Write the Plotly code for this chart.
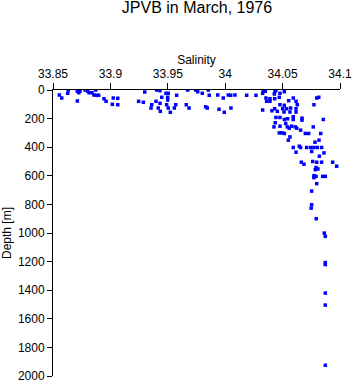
import plotly.graph_objects as go

salinity = [
    33.8555, 33.8576, 33.8628, 33.8633, 33.8712, 33.8724, 33.8735, 33.8712, 33.8779, 33.8802,
    33.8814, 33.8840, 33.8872, 33.8857, 33.8881, 33.8898, 33.8944, 33.8962, 33.9025, 33.9064,
    33.9017, 33.9064, 33.9246, 33.9287, 33.9299,
    33.9403, 33.9432, 33.9484, 33.9504, 33.9499, 33.9499, 33.9447, 33.9397, 33.9432, 33.9360,
    33.9354, 33.9417, 33.9435, 33.9490, 33.9504, 33.9522, 33.9569, 33.9557, 33.9577, 33.9673,
    33.9743, 33.9760, 33.9800, 33.9853, 33.9861, 33.9935, 33.9983, 34.0027, 34.0048, 34.0085,
    33.9661, 33.9685, 33.9830, 33.9844, 33.9946, 33.9992, 34.0050,
    34.0187, 34.0268, 34.0332, 34.0349, 34.0326, 34.0434, 34.0442, 34.0428, 34.0477, 34.0515,
    34.0471, 34.0355, 34.0390, 34.0361, 34.0390, 34.0431, 34.0553, 34.0617, 34.0593, 34.0628,
    34.0477, 34.0515, 34.0501, 34.0431, 34.0454, 34.0512, 34.0535, 34.0570, 34.0617, 34.0617,
    34.0564, 34.0326, 34.0407, 34.0773, 34.0797, 34.0815,
    34.0442, 34.0477, 34.0515, 34.0544, 34.0593, 34.0593, 34.0669, 34.0669, 34.0854, 34.0436,
    34.0425, 34.0477, 34.0527, 34.0541, 34.0579, 34.0610, 34.0623, 34.0558, 34.0767, 34.0657,
    34.0698, 34.0727, 34.0471, 34.0495, 34.0515, 34.0564, 34.0832, 34.0817, 34.0782, 34.0550,
    34.0593, 34.0645, 34.0657, 34.0710, 34.0745, 34.0773, 34.0802, 34.0840, 34.0617, 34.0753,
    34.0860, 34.0820, 34.0663, 34.0686, 34.0762, 34.0797, 34.0840, 34.0936, 34.0971, 34.0791,
    34.0808, 34.0785, 34.0773, 34.0791, 34.0773, 34.0849, 34.0872, 34.0797, 34.0753,
    34.0753, 34.0749, 34.0793, 34.0863, 34.0872, 34.0872, 34.0872, 34.0872, 34.0872, 34.0872,
]
depth = [
    35, 56, 23, 0, 9, 19, 9, 77, 0, 9,
    19, 19, 0, 35, 37, 37, 61, 79, 56, 58,
    100, 103, 79, 86, 14,
    0, 5, 23, 23, 51, 70, 51, 79, 93, 103,
    126, 126, 149, 103, 126, 156, 103, 126, 37, 0,
    0, 12, 23, 0, 37, 35, 56, 35, 37, 35,
    103, 126, 117, 126, 135, 156, 126,
    37, 37, 5, 9, 23, 9, 0, 28, 23, 12,
    51, 56, 61, 79, 79, 61, 75, 79, 56, 103,
    103, 107, 131, 131, 149, 154, 131, 126, 131, 154,
    154, 140, 145, 103, 56, 51,
    192, 192, 206, 201, 187, 206, 197, 211, 206, 229,
    258, 253, 234, 258, 253, 258, 267, 267, 258, 281,
    304, 304, 300, 300, 304, 328, 304, 351, 365, 351,
    402, 393, 402, 402, 402, 402, 402, 402, 435, 430,
    440, 463, 505, 519, 500, 505, 505, 505, 533, 542,
    552, 557, 599, 604, 613, 604, 604, 655, 707,
    802, 826, 900, 1001, 1023, 1207, 1221, 1420, 1504, 1925,
]

x_ticks = [33.85, 33.9, 33.95, 34.0, 34.05, 34.1]
x_tick_text = ["33.85", "33.9", "33.95", "34", "34.05", "34.1"]
y_ticks = [0, 200, 400, 600, 800, 1000, 1200, 1400, 1600, 1800, 2000]

FONT = "Liberation Sans, Arial, Helvetica, sans-serif"

fig = go.Figure(go.Scatter(
    x=salinity, y=depth, mode="markers",
    marker=dict(symbol="square", size=3.5, color="#0000ff", line=dict(width=0)),
    hoverinfo="skip",
))

fig.update_layout(
    width=353, height=384,
    margin=dict(l=53, r=13, t=90, b=8),
    paper_bgcolor="white", plot_bgcolor="white",
    showlegend=False,
    font=dict(family=FONT, size=12, color="black"),
    title=dict(text="JPVB in March, 1976", x=0.558, xanchor="center",
               y=0.995, yanchor="top", yref="container",
               font=dict(family=FONT, size=16, color="black")),
    xaxis=dict(
        side="top", range=[33.85, 34.1], tickvals=x_ticks, ticktext=x_tick_text,
        ticks="outside", ticklen=6, tickcolor="black", tickwidth=1,
        showline=True, linecolor="black", linewidth=1, showgrid=False, zeroline=False,
        automargin=False,
        title=dict(text="Salinity", standoff=0, font=dict(family=FONT, size=12)),
        tickfont=dict(family=FONT, size=12),
    ),
    yaxis=dict(
        range=[2000, 0], tickvals=y_ticks,
        ticks="outside", ticklen=5, tickcolor="black", tickwidth=1,
        showline=True, linecolor="black", linewidth=1, showgrid=False, zeroline=False,
        automargin=False,
        title=dict(text="Depth [m]", standoff=6, font=dict(family=FONT, size=12)),
        tickfont=dict(family=FONT, size=12),
    ),
)

fig.write_html("out.html")
